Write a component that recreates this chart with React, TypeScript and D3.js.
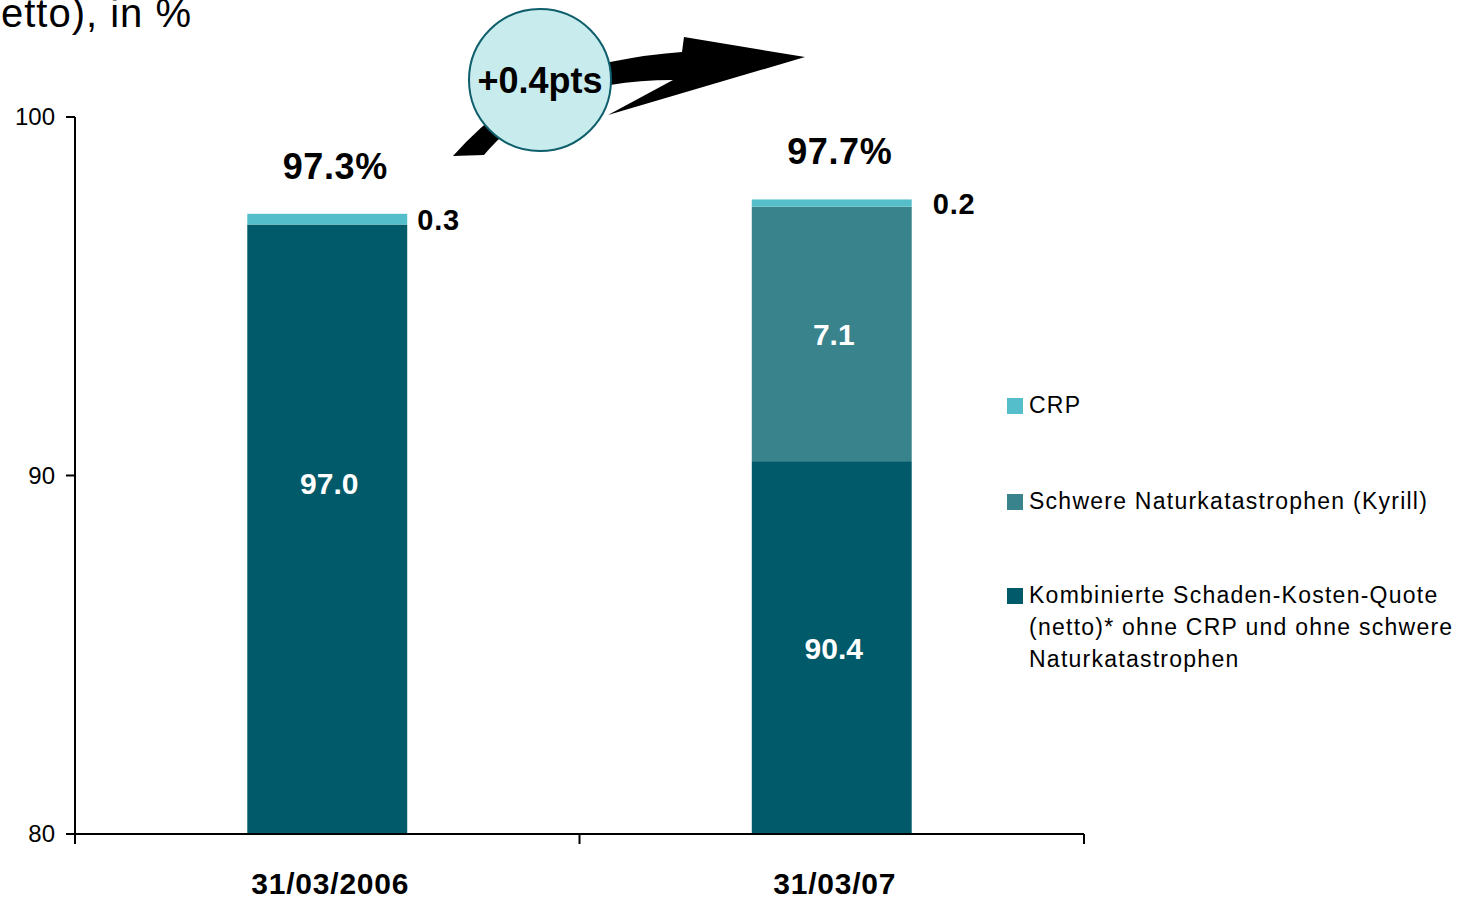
import React from 'react'
import * as d3 from 'd3'

// Combined ratio (net), in %
const categories = ['31/03/2006', '31/03/07']
const baseValues = [97.0, 90.4]
const kyrillValues = [0, 7.1]
const crpValues = [0.3, 0.2]
const totalLabels = ['97.3%', '97.7%']
const yTicks = [80, 90, 100]
const seriesKeys = ['base', 'kyrill', 'crp']
const legendLabels = [
  ['CRP'],
  ['Schwere Naturkatastrophen (Kyrill)'],
  ['Kombinierte Schaden-Kosten-Quote', '(netto)* ohne CRP und ohne schwere', 'Naturkatastrophen'],
]
const changeLabel = '+0.4pts'
const title = 'Kombinierte Schaden-Kosten-Quote (netto), in %'

const colors: Record<string, string> = {
  base: '#005A69',
  kyrill: '#38838C',
  crp: '#55BECB',
}
const legendColors = [colors.crp, colors.kyrill, colors.base]

const width = 1471
const height = 898
const font = 'Liberation Sans, Arial, Helvetica, sans-serif'

export default function App() {
  const x = d3
    .scaleBand<string>()
    .domain(categories)
    .range([75, 1084])
    .paddingInner(0.683)
    .paddingOuter(0.3415)
  const y = d3.scaleLinear().domain([80, 100]).range([834, 117]).clamp(true)

  const rows = categories.map((c, i) => ({
    cat: c,
    base: baseValues[i],
    kyrill: kyrillValues[i],
    crp: crpValues[i],
  }))
  const stack = d3.stack<any>().keys(seriesKeys)
  const series = stack(rows)

  const step = x.step()
  const xTickPositions = [75, 75 + step, 75 + 2 * step]

  // arrow shape behind the bubble
  const arrow = d3.path()
  arrow.moveTo(453, 156)
  arrow.quadraticCurveTo(520, 80, 610, 62)
  arrow.quadraticCurveTo(650, 54, 682, 52)
  arrow.lineTo(684, 37)
  arrow.lineTo(805, 57)
  arrow.lineTo(608, 115)
  arrow.lineTo(673, 80)
  arrow.quadraticCurveTo(640, 80, 610, 85)
  arrow.quadraticCurveTo(530, 100, 484, 155)
  arrow.closePath()

  return (
    <svg
      width={width}
      height={height}
      style={{ position: 'absolute', left: 0, top: 0, background: '#fff' }}
      fontFamily={font}
    >
      <text x={192} y={27} fontSize={40} letterSpacing={1} textAnchor="end" fill="#000">
        {title}
      </text>

      {/* bars */}
      {series.map((s) => (
        <g key={s.key} fill={colors[s.key]}>
          {s.map((d, i) =>
            d[1] - d[0] > 0 ? (
              <rect
                key={i}
                x={x(categories[i])}
                y={y(d[1])}
                width={x.bandwidth()}
                height={y(d[0]) - y(d[1])}
              />
            ) : null,
          )}
        </g>
      ))}

      {/* segment labels */}
      {series.map((s) =>
        s.map((d, i) => {
          const v = d[1] - d[0]
          if (v <= 0) return null
          const cx = x(categories[i])! + x.bandwidth() / 2
          if (s.key === 'crp') {
            return (
              <text
                key={s.key + i}
                x={x(categories[i])! + x.bandwidth() + 10 + i * 11}
                y={y((d[0] + d[1]) / 2) + 11}
                fontSize={29}
                fontWeight="bold"
                letterSpacing={0.8}
                fill="#000"
              >
                {v.toFixed(1)}
              </text>
            )
          }
          const mid = s.key === 'base' && i === 0 ? 89.8 : (Math.max(d[0], 80) + d[1]) / 2
          return (
            <text
              key={s.key + i}
              x={cx + 2}
              y={y(mid) + 11}
              fontSize={30}
              fontWeight="bold"
              fill="#fff"
              textAnchor="middle"
            >
              {v.toFixed(1)}
            </text>
          )
        }),
      )}

      {/* totals */}
      {categories.map((c, i) => (
        <text
          key={c}
          x={x(c)! + x.bandwidth() / 2 + 8}
          y={y(baseValues[i] + kyrillValues[i] + crpValues[i]) - 35}
          fontSize={36}
          fontWeight="bold"
          letterSpacing={0.6}
          textAnchor="middle"
          fill="#000"
        >
          {totalLabels[i]}
        </text>
      ))}

      {/* y axis */}
      <line x1={75} x2={75} y1={y(100)} y2={y(80)} stroke="#000" strokeWidth={2} />
      {yTicks.map((t) => (
        <g key={t}>
          <line x1={66} x2={75} y1={y(t)} y2={y(t)} stroke="#000" strokeWidth={2} />
          <text x={55} y={y(t) + 8} fontSize={24} textAnchor="end" fill="#000">
            {t}
          </text>
        </g>
      ))}

      {/* x axis */}
      <line x1={75} x2={1084} y1={834} y2={834} stroke="#000" strokeWidth={2} />
      {xTickPositions.map((p, i) => (
        <line key={i} x1={p} x2={p} y1={834} y2={844} stroke="#000" strokeWidth={2} />
      ))}
      {categories.map((c) => (
        <text
          key={c}
          x={x(c)! + x.bandwidth() / 2 + 3}
          y={894}
          fontSize={30}
          fontWeight="bold"
          letterSpacing={0.8}
          textAnchor="middle"
          fill="#000"
        >
          {c}
        </text>
      ))}

      {/* change bubble */}
      <path d={arrow.toString()} fill="#000" />
      <circle cx={540} cy={80} r={71} fill="#C8EBEE" stroke="#0E5E6B" strokeWidth={2} />
      <text x={540} y={93} fontSize={36} fontWeight="bold" textAnchor="middle" fill="#000">
        {changeLabel}
      </text>

      {/* legend */}
      {legendLabels.map((lines, i) => {
        const top = [398, 494, 588][i]
        return (
          <g key={i}>
            <rect x={1007} y={top} width={16} height={16} fill={legendColors[i]} />
            {lines.map((l, j) => (
              <text
                key={j}
                x={1029}
                y={top + 15 + j * 32}
                fontSize={23}
                letterSpacing={1.25}
                fill="#000"
              >
                {l}
              </text>
            ))}
          </g>
        )
      })}
    </svg>
  )
}
